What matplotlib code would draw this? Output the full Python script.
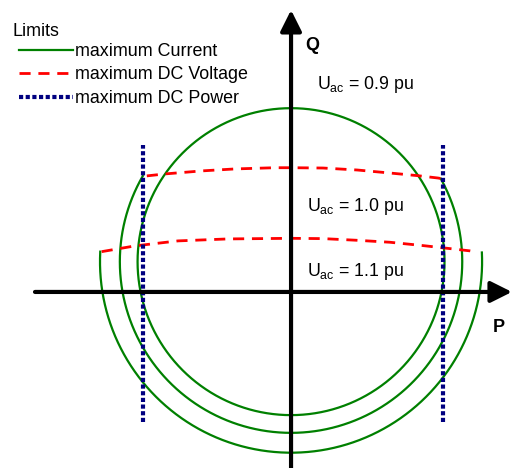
import numpy as np
import matplotlib
matplotlib.use("Agg")
import matplotlib.pyplot as plt

plt.rcParams["font.family"] = ["Liberation Sans", "DejaVu Sans"]
plt.rcParams["mathtext.fontset"] = "custom"
plt.rcParams["mathtext.rm"] = "Liberation Sans"
plt.rcParams["mathtext.it"] = "Liberation Sans:italic"

# operating voltages and current-limit circles (P, Q in units of P_max)
u_ac = ["0.9", "1.0", "1.1"]
q_center = 0.2
current_radius = [1.013, 1.13, 1.261]

# DC voltage limit curves (none binds at 0.9 pu)
dcv_p_10 = [-0.952, -0.832, -0.589, -0.370, -0.106, 0.0, 0.211, 0.436, 0.653, 0.832, 0.970, 1.003]
dcv_q_10 = [0.766, 0.779, 0.799, 0.812, 0.820, 0.820, 0.818, 0.805, 0.785, 0.768, 0.752, 0.746]
dcv_p_11 = [-1.250, -1.030, -0.746, -0.416, 0.0, 0.211, 0.436, 0.653, 0.871, 1.050, 1.182, 1.228]
dcv_q_11 = [0.266, 0.304, 0.337, 0.350, 0.354, 0.352, 0.341, 0.328, 0.306, 0.286, 0.271, 0.262]
dcv_curves = {"1.0": (dcv_p_10, dcv_q_10), "1.1": (dcv_p_11, dcv_q_11)}

# DC power limit
p_limit = [-0.98, 1.0]
p_limit_q = [-0.858, 0.970]

GREEN = "#008000"
RED = "#ff0000"
NAVY = "#000080"

fig = plt.figure(figsize=(5.13, 4.68), dpi=100)
ax = fig.add_axes([0, 0, 1, 1])
ax.set_xlim(-1.921, 1.465)
ax.set_ylim(-1.162, 1.927)
ax.axis("off")

theta = np.linspace(np.pi / 2, np.pi / 2 + 2 * np.pi, 1441)
for i, (u, r) in enumerate(zip(u_ac, current_radius)):
    p = r * np.cos(theta)
    q = q_center + r * np.sin(theta)
    if u in dcv_curves:
        cp, cq = dcv_curves[u]
        cap = np.interp(p, cp, cq)
        q = np.where(q > cap, np.nan, q)
    ax.plot(p, q, color=GREEN, lw=1.6, label="maximum Current" if i == 0 else None)

for i, u in enumerate(["1.0", "1.1"]):
    cp, cq = dcv_curves[u]
    ax.plot(cp, cq, color=RED, lw=2, linestyle=(0, (4, 2.8)),
            label="maximum DC Voltage" if i == 0 else None)

for i, pl in enumerate(p_limit):
    ax.plot([pl, pl], p_limit_q, color=NAVY, lw=3, linestyle=(0, (1, 0.6)),
            label="maximum DC Power" if i == 0 else None)

arrow = dict(arrowstyle="-|>", color="black", lw=3, mutation_scale=32,
             shrinkA=0, shrinkB=0)
ax.annotate("", xy=(1.458, 0), xytext=(-1.69, 0), arrowprops=arrow)
ax.annotate("", xy=(0, 1.861), xytext=(0, -1.162), arrowprops=arrow)

ax.text(0.092, 1.597, "Q", fontsize=13, fontweight="bold", va="baseline")
ax.text(1.333, -0.264, "P", fontsize=13, fontweight="bold", va="baseline")

label_pos = {"0.9": (0.172, 1.340), "1.0": (0.106, 0.535), "1.1": (0.106, 0.106)}
for u in u_ac:
    x, y = label_pos[u]
    ax.text(x, y, r"U$_{\mathrm{ac}}$ = " + u + " pu", fontsize=12.8, va="baseline")

fig.text(12 / 513, 1 - 36 / 468, "Limits", fontsize=12.9, va="baseline")
ax.legend(loc="upper left", bbox_to_anchor=(19 / 513, 1 - 43 / 468),
          bbox_transform=fig.transFigure, frameon=False, fontsize=12.9,
          handlelength=3.0, handletextpad=0.15, labelspacing=0.36,
          borderpad=0, borderaxespad=0)

fig.savefig("out.png", dpi=100)
